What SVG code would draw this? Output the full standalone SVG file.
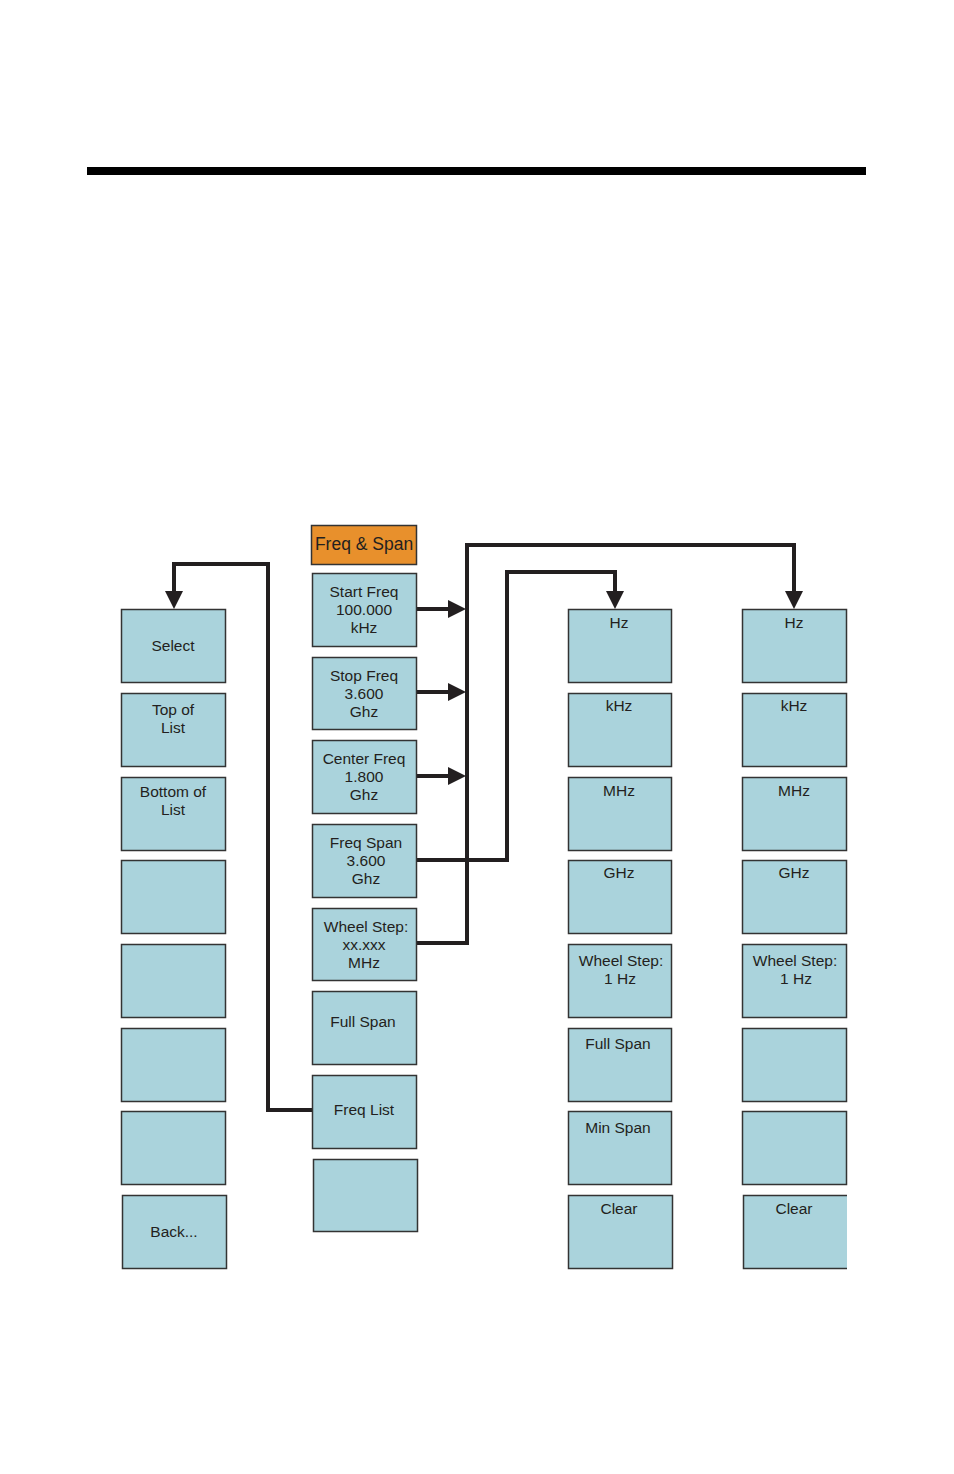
<svg xmlns="http://www.w3.org/2000/svg" width="954" height="1474" viewBox="0 0 954 1474">
<style>
.b{fill:#aad3dc;stroke:#333;stroke-width:1.5}
.o{fill:#e8902c;stroke:#333;stroke-width:1.5}
.t{font-family:"Liberation Sans",Arial,sans-serif;font-size:15.5px;fill:#231f20;text-anchor:middle}
.c{fill:none;stroke:#231f20;stroke-width:4;stroke-linejoin:miter}
.h{fill:#231f20}
</style>
<rect x="87" y="167" width="779" height="8" fill="#000"/>
<g id="connectors">
<path class="c" d="M416,609H452M416,692H452M416,776H452M416,943H467V545H794V593"/>
<path class="c" d="M416,860H507V572H615V593"/>
<path class="c" d="M312,1110H268V564H174V593"/>
<polygon class="h" points="448,600 466,609 448,618"/>
<polygon class="h" points="448,683 466,692 448,701"/>
<polygon class="h" points="448,767 466,776 448,785"/>
<polygon class="h" points="785,591 803,591 794,609"/>
<polygon class="h" points="606,591 624,591 615,609"/>
<polygon class="h" points="165,591 183,591 174,609"/>
</g>
<g id="col1">
<g id="select"><rect class="b" x="121.5" y="609.5" width="104" height="73"/><text class="t" x="173" y="651">Select</text></g>
<g id="toplist"><rect class="b" x="121.5" y="693.5" width="104" height="73"/><text class="t" x="173" y="715">Top of</text><text class="t" x="173" y="733">List</text></g>
<g id="bottomlist"><rect class="b" x="121.5" y="777.5" width="104" height="73"/><text class="t" x="173" y="797">Bottom of</text><text class="t" x="173" y="815">List</text></g>
<g id="l4"><rect class="b" x="121.5" y="860.5" width="104" height="73"/></g>
<g id="l5"><rect class="b" x="121.5" y="944.5" width="104" height="73"/></g>
<g id="l6"><rect class="b" x="121.5" y="1028.5" width="104" height="73"/></g>
<g id="l7"><rect class="b" x="121.5" y="1111.5" width="104" height="73"/></g>
<g id="back"><rect class="b" x="122.5" y="1195.5" width="104" height="73"/><text class="t" x="174" y="1237">Back...</text></g>
</g>
<g id="col2">
<g id="freqspan"><rect class="o" x="311.5" y="525.5" width="105" height="39"/><text class="t" x="364" y="550" style="font-size:17.5px">Freq &amp; Span</text></g>
<g id="startfreq"><rect class="b" x="312.5" y="573.5" width="104" height="73"/><text class="t" x="364" y="597">Start Freq</text><text class="t" x="364" y="615">100.000</text><text class="t" x="364" y="633">kHz</text></g>
<g id="stopfreq"><rect class="b" x="312.5" y="657.5" width="104" height="72"/><text class="t" x="364" y="681">Stop Freq</text><text class="t" x="364" y="699">3.600</text><text class="t" x="364" y="717">Ghz</text></g>
<g id="centerfreq"><rect class="b" x="312.5" y="740.5" width="104" height="73"/><text class="t" x="364" y="764">Center Freq</text><text class="t" x="364" y="782">1.800</text><text class="t" x="364" y="800">Ghz</text></g>
<g id="freqspanbox"><rect class="b" x="312.5" y="824.5" width="104" height="73"/><text class="t" x="366" y="848">Freq Span</text><text class="t" x="366" y="866">3.600</text><text class="t" x="366" y="884">Ghz</text></g>
<g id="wheelstep"><rect class="b" x="312.5" y="908.5" width="104" height="72"/><text class="t" x="366" y="932">Wheel Step:</text><text class="t" x="364" y="950">xx.xxx</text><text class="t" x="364" y="968">MHz</text></g>
<g id="fullspan"><rect class="b" x="312.5" y="991.5" width="104" height="73"/><text class="t" x="363" y="1027">Full Span</text></g>
<g id="freqlist"><rect class="b" x="312.5" y="1075.5" width="104" height="73"/><text class="t" x="364" y="1115">Freq List</text></g>
<g id="m8"><rect class="b" x="313.5" y="1159.5" width="104" height="72"/></g>
</g>
<g id="col3">
<g id="hz1"><rect class="b" x="568.5" y="609.5" width="103" height="73"/><text class="t" x="619" y="628">Hz</text></g>
<g id="khz1"><rect class="b" x="568.5" y="693.5" width="103" height="73"/><text class="t" x="619" y="711">kHz</text></g>
<g id="mhz1"><rect class="b" x="568.5" y="777.5" width="103" height="73"/><text class="t" x="619" y="796">MHz</text></g>
<g id="ghz1"><rect class="b" x="568.5" y="860.5" width="103" height="73"/><text class="t" x="619" y="878">GHz</text></g>
<g id="ws1"><rect class="b" x="568.5" y="944.5" width="103" height="73"/><text class="t" x="621" y="966">Wheel Step:</text><text class="t" x="620" y="984">1 Hz</text></g>
<g id="fs1"><rect class="b" x="568.5" y="1028.5" width="103" height="73"/><text class="t" x="618" y="1049">Full Span</text></g>
<g id="ms1"><rect class="b" x="568.5" y="1111.5" width="103" height="73"/><text class="t" x="618" y="1133">Min Span</text></g>
<g id="clear1"><rect class="b" x="568.5" y="1195.5" width="104" height="73"/><text class="t" x="619" y="1214">Clear</text></g>
</g>
<g id="col4">
<g id="hz2"><rect class="b" x="742.5" y="609.5" width="104" height="73"/><text class="t" x="794" y="628">Hz</text></g>
<g id="khz2"><rect class="b" x="742.5" y="693.5" width="104" height="73"/><text class="t" x="794" y="711">kHz</text></g>
<g id="mhz2"><rect class="b" x="742.5" y="777.5" width="104" height="73"/><text class="t" x="794" y="796">MHz</text></g>
<g id="ghz2"><rect class="b" x="742.5" y="860.5" width="104" height="73"/><text class="t" x="794" y="878">GHz</text></g>
<g id="ws2"><rect class="b" x="742.5" y="944.5" width="104" height="73"/><text class="t" x="795" y="966">Wheel Step:</text><text class="t" x="796" y="984">1 Hz</text></g>
<g id="r6"><rect class="b" x="742.5" y="1028.5" width="104" height="73"/></g>
<g id="r7"><rect class="b" x="742.5" y="1111.5" width="104" height="73"/></g>
<g id="clear2"><rect x="743" y="1195" width="104" height="74" fill="#aad3dc"/><path d="M847,1195.5H743.5V1268.5H847" fill="none" stroke="#333" stroke-width="1.5"/><text class="t" x="794" y="1214">Clear</text></g>
</g>
</svg>
